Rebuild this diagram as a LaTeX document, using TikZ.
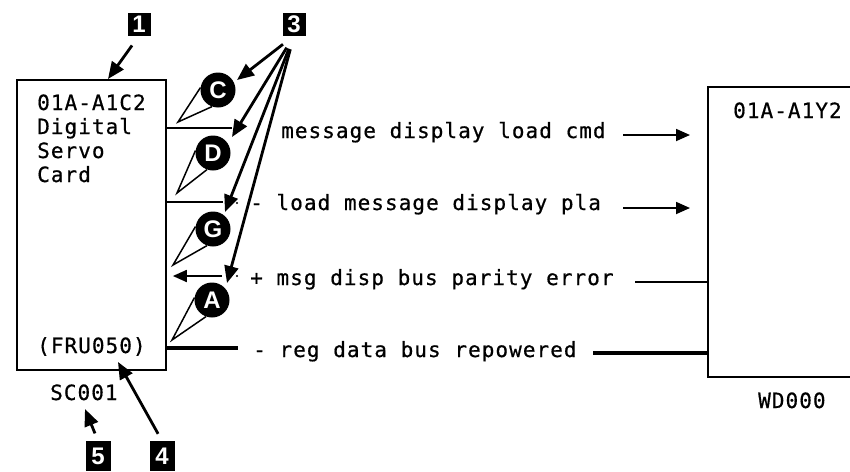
\documentclass[tikz,border=0pt]{standalone}
\usepackage{fontspec}
\newfontfamily\typefont{DejaVu Sans Mono}[LetterSpace=5,FakeBold=0.6]
\newfontfamily\tagfont{Liberation Sans}
\usetikzlibrary{arrows.meta}

\tikzset{
  lbl/.style={font=\typefont\fontsize{21}{24}\selectfont, inner sep=0pt, anchor=base west},
  tagbox/.style={fill=black, text=white, font=\tagfont\bfseries\fontsize{24}{24}\selectfont, inner sep=0pt, minimum width=23pt, minimum height=23pt},
  callout/.style={circle, fill=black, text=white, font=\tagfont\bfseries\fontsize{24}{24}\selectfont, inner sep=0pt, minimum size=35pt},
  wire/.style={line width=1.7pt},
  bus/.style={line width=4.5pt},
  sig/.style={line width=1.8pt, -{Triangle[length=14pt,width=12pt]}},
  tagarrow/.style={line width=2.8pt, -{Triangle[length=17pt,width=14pt]}},
  bubble/.style={line width=1.5pt, line join=miter}
}

\begin{document}
\begin{tikzpicture}[x=1pt,y=-1pt]
\useasboundingbox (0,0) rectangle (850,471);

% the two cards
\node[draw, line width=1.7pt, minimum width=149pt, minimum height=290pt, inner sep=0pt] (card) at (91.5,225) {};
\node[draw, line width=1.7pt, minimum width=160pt, minimum height=290pt, inner sep=0pt] (ctl) at (788,232) {};

\node[lbl] (cname) at (37,110) {01A-A1C2};
\node[lbl] (cdig) at (37,134) {Digital};
\node[lbl] (cservo) at (37,158) {Servo};
\node[lbl] (ccard) at (37,182) {Card};
\node[lbl] (cfru) at (37,353) {(FRU050)};
\node[lbl] (csc) at (50,400) {SC001};
\node[lbl] (yname) at (733,118) {01A-A1Y2};
\node[lbl] (ywd) at (758,408) {WD000};

% signal lines
\coordinate (w1) at (232,128);
\coordinate (w2) at (223,202);
\coordinate (w3) at (222,276);
\coordinate (w4) at (238,348);
\draw[wire] (card.east |- w1) -- (w1);
\draw[wire] (card.east |- w2) -- (w2);
\draw[sig, shorten >=6pt] (w3) -- (card.east |- w3);
\draw[bus] (card.east |- w4) -- (w4);
\fill (237,203) circle (1.2pt);
\fill (237,276) circle (1.2pt);

\node[lbl] (s1) at (281,138) {message display load cmd};
\node[lbl] (s2) at (250,210) {- load message display pla};
\node[lbl] (s3) at (250,285) {+ msg disp bus parity error};
\node[lbl] (s4) at (253,357) {- reg data bus repowered};

\coordinate (r1) at (623,135);
\coordinate (r2) at (623,208);
\coordinate (r3) at (635,282);
\coordinate (r4) at (593,353);
\draw[sig] (r1) -- (690,135);
\draw[sig] (r2) -- (690,208);
\draw[wire] (r3) -- (ctl.west |- r3);
\draw[bus] (r4) -- (ctl.west |- r4);

% test point bubbles
\node[callout] (cC) at (218,90) {C};
\node[callout] (cD) at (213,153) {D};
\node[callout] (cG) at (213,229) {G};
\node[callout] (cA) at (212,300) {A};
\coordinate (tC) at (178,122);
\coordinate (tD) at (177,193);
\coordinate (tG) at (173,265);
\coordinate (tA) at (172,340);
\draw[bubble] (cC.172) -- (tC) -- (cC.250);
\draw[bubble] (cD.172) -- (tD) -- (cD.250);
\draw[bubble] (cG.172) -- (tG) -- (cG.250);
\draw[bubble] (cA.172) -- (tA) -- (cA.250);

% numbered tags
\node[tagbox] (n1) at (139,24) {1};
\node[tagbox] (n3) at (294,24) {3};
\node[tagbox, minimum width=25pt, minimum height=30pt] (n5) at (98,456) {5};
\node[tagbox, minimum width=25pt, minimum height=30pt] (n4) at (162,456) {4};

\coordinate (a1) at (108,79);
\coordinate (aC) at (237,80);
\coordinate (aD) at (232,137);
\coordinate (aG) at (225,212);
\coordinate (aA) at (227,283);
\coordinate (a5) at (85,409);
\coordinate (a4) at (118,362);
\draw[tagarrow, shorten <=12pt] (n1.south) -- (a1);
\foreach \t in {aC,aD,aG,aA}
  \draw[tagarrow, shorten <=14pt] (n3.south) -- (\t);
\draw[tagarrow, shorten <=8pt] (n5.north) -- (a5);
\draw[tagarrow, shorten <=8pt] (n4.north) -- (a4);

\end{tikzpicture}
\end{document}
